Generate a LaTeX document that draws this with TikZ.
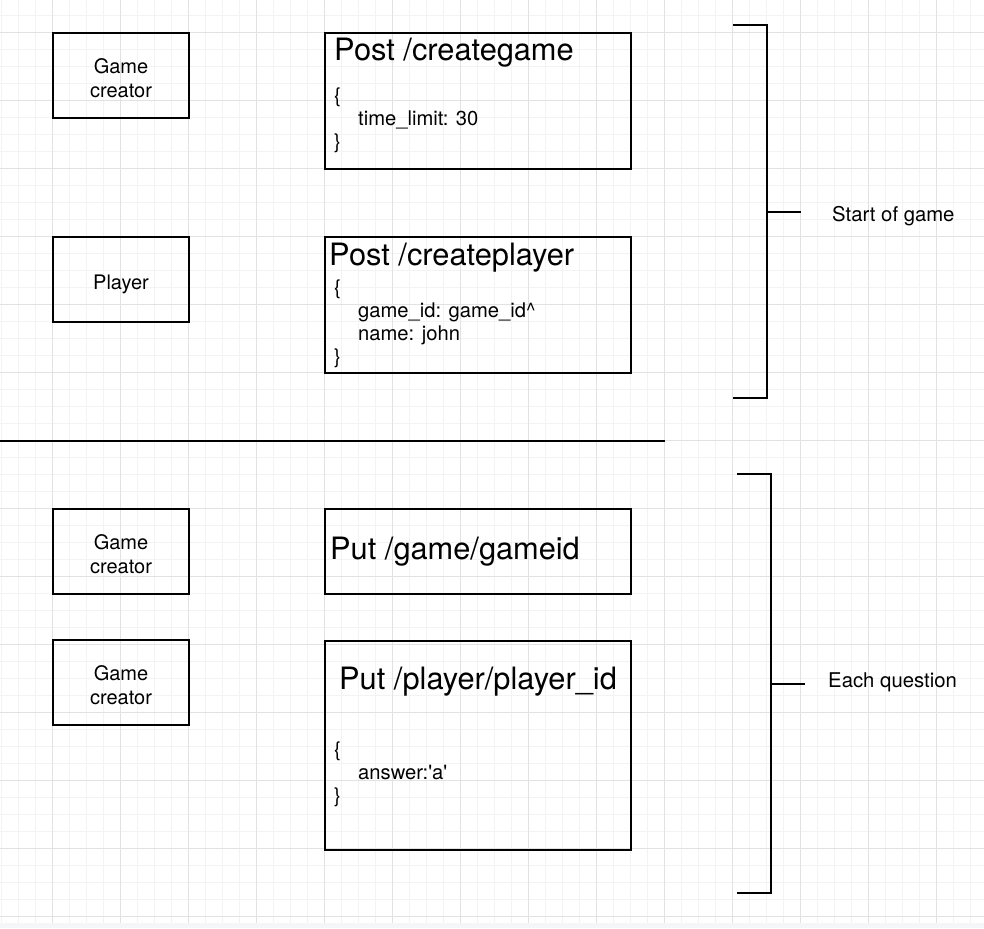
\documentclass[tikz,border=0pt]{standalone}
\usepackage{fontspec}
\setmainfont{TeX Gyre Heros}
\usetikzlibrary{positioning}
\definecolor{gridmajor}{HTML}{E2E2E2}
\definecolor{gridminor}{HTML}{F3F3F3}
\definecolor{pageedge}{HTML}{F5F6F8}
\newcommand\jsonbody[1]{\begin{tabular}[t]{@{}l@{}}#1\end{tabular}}
\tikzset{
	actor/.style={draw, line width=2pt, minimum width=136pt, minimum height=85pt, inner sep=0pt, align=center, text height=44pt, text depth=0pt, font=\fontsize{20}{24}\selectfont},
	request/.style={draw, line width=2pt, minimum width=306pt, inner sep=0pt},
	title/.style={anchor=base west, inner sep=0pt, font=\fontsize{30.8}{36}\selectfont},
	body/.style={anchor=base west, inner sep=0pt, font=\fontsize{20.2}{23}\selectfont},
	side/.style={anchor=base west, inner sep=0pt, font=\fontsize{20.3}{24}\selectfont},
	bracket/.style={line width=2pt},
}
\begin{document}
\begin{tikzpicture}[x=1pt, y=-1pt]
	\useasboundingbox (0,0) rectangle (984,928);

	% grid paper
	\fill[white] (0,0) rectangle (984,923);
	\fill[pageedge] (0,923) rectangle (984,928);
	\foreach \x in {1.7,18.7,...,984}
	{
		\draw[gridminor, line width=1pt] (\x,0) -- (\x,923);
	};
	\foreach \y in {15.7,32.7,...,923}
	{
		\draw[gridminor, line width=1pt] (0,\y) -- (984,\y);
	};
	\foreach \x in {52.7,120.7,...,984}
	{
		\draw[gridmajor, line width=1pt] (\x,0) -- (\x,923);
	};
	\foreach \y in {32.7,100.7,...,923}
	{
		\draw[gridmajor, line width=1pt] (0,\y) -- (984,\y);
	};

	\node[actor] (creator1) at (121,75.5) {Game\\creator};
	\node[actor, text height=19.5pt] (player) at (121,279.5) {Player};
	\node[actor] (creator2) at (121,551.5) {Game\\creator};
	\node[actor] (creator3) at (121,682.5) {Game\\creator};

	\node[request, minimum height=136pt] (createGame) at (478,101) {};
	\node[request, minimum height=136pt] (createPlayer) at (478,305) {};
	\node[request, minimum height=85pt] (putGame) at (478,551.5) {};
	\node[request, minimum height=209pt] (putPlayer) at (478,745) {};

	\node[title] (createGameTitle) at ([xshift=10pt, yshift=-28.7pt]createGame.north west) {Post /creategame};
	\node[body] (createGameBody) at ([xshift=10pt, yshift=-70.7pt]createGame.north west)
		{\jsonbody{\{\\\hspace*{24pt}time\_limit: 30\\\}}};

	\node[title] (createPlayerTitle) at ([xshift=5pt, yshift=-29.7pt]createPlayer.north west) {Post /createplayer};
	\node[body] (createPlayerBody) at ([xshift=10pt, yshift=-58.3pt]createPlayer.north west)
		{\jsonbody{\{\\\hspace*{24pt}game\_id: game\_id\textasciicircum\\\hspace*{24pt}name: john\\\}}};

	\node[title] (putGameTitle) at ([xshift=6pt, yshift=-51pt]putGame.north west) {Put /game/gameid};

	\node[title] (putPlayerTitle) at ([xshift=15pt, yshift=-50.2pt]putPlayer.north west) {Put /player/player\_id};
	\node[body] (putPlayerBody) at ([xshift=10pt, yshift=-116.5pt]putPlayer.north west)
		{\jsonbody{\{\\\hspace*{24pt}answer:\textquotesingle a\textquotesingle\\\}}};

	\draw[line width=2pt] (0,441) -- (665,441);

	\foreach \xa / \xb / \ya / \yb / \ym in {
	733/767/25/398/212,
	737/770.5/474/893/683.7}
	{
		\draw[bracket] (\xa,\ya) -| (\xb,\yb) -- (\xa,\yb);
		\draw[bracket] (\xb,\ym) -- ++(34,0);
	};

	\node[side] (startLabel) at (832,221) {Start of game};
	\node[side] (questionLabel) at (828,687.3) {Each question};
\end{tikzpicture}
\end{document}
